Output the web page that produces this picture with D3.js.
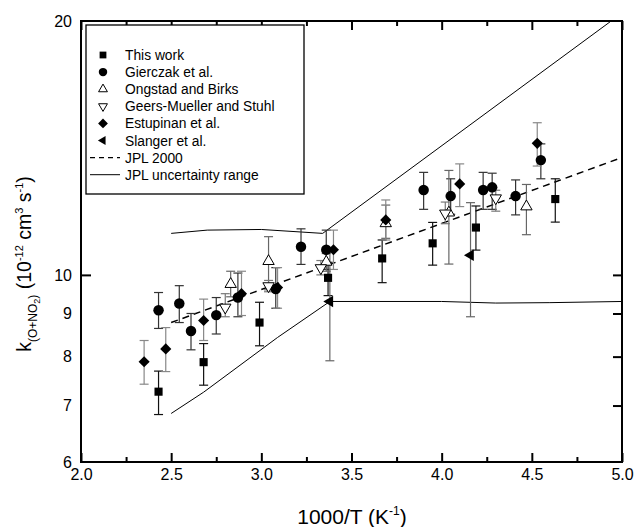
<!DOCTYPE html>
<html lang="en">
	<head>
		<meta charset="utf-8">
		<title>O + NO2 rate constant vs 1000/T</title>
		<script type="text/javascript" src="https://d3js.org/d3.v7.min.js"></script>
		<style type="text/css">
			body { margin: 0; background: #fff; }
			text { font-family: "Liberation Sans", Arial, sans-serif; }
		</style>
	</head>
	<body>
		<script type="text/javascript">

			//Data: [1000/T, k, lower error, upper error]
			var thisWork = [
				[2.43, 7.27, 6.83, 7.69], [2.68, 7.88, 7.40, 8.29], [2.99, 8.78, 8.24, 9.28],
				[3.37, 9.92, 9.45, 10.35], [3.67, 10.46, 9.79, 11.0], [3.95, 10.9, 10.27, 11.54],
				[4.19, 11.38, 10.7, 12.07], [4.63, 12.30, 11.55, 13.0]
			];
			var gierczak = [
				[2.43, 9.08, 8.64, 9.53], [2.545, 9.25, 8.78, 9.71], [2.61, 8.58, 8.15, 9.00],
				[2.75, 8.96, 8.51, 9.40], [2.87, 9.40, 8.92, 10.05], [3.08, 9.62, 9.13, 10.2],
				[3.22, 10.8, 10.29, 11.34], [3.36, 10.71, 10.15, 11.3], [3.90, 12.61, 11.96, 13.23],
				[4.05, 12.4, 11.8, 13.0], [4.23, 12.61, 11.96, 13.23], [4.28, 12.7, 11.96, 13.2],
				[4.41, 12.4, 11.78, 12.96], [4.55, 13.68, 13.0, 14.3]
			];
			var ongstad = [
				[2.83, 9.75, 9.42, 10.1], [3.04, 10.38, 9.6, 11.1], [3.36, 10.36, 10.1, 10.6],
				[3.69, 11.51, 11.05, 12.1], [4.04, 11.85, 10.3, 13.3], [4.47, 12.05, 11.16, 12.8]
			];
			var geers = [
				[2.80, 9.15, 8.92, 9.50], [3.04, 9.70, 9.55, 9.85], [3.33, 10.19, 10.0, 10.4],
				[4.02, 11.83, 11.5, 12.2], [4.30, 12.33, 11.9, 12.6]
			];
			var estupinan = [
				[2.35, 7.89, 7.42, 8.36], [2.47, 8.17, 7.68, 8.66], [2.68, 8.83, 8.36, 9.36],
				[2.89, 9.50, 8.95, 10.1], [3.09, 9.66, 9.13, 10.2], [3.40, 10.71, 10.15, 11.3],
				[3.69, 11.62, 11.0, 12.27], [4.10, 12.82, 12.05, 13.54], [4.53, 14.32, 13.46, 15.15]
			];
			var slanger = [
				[3.38, 9.30, 7.91, 10.7], [4.16, 10.55, 8.92, 12.18]
			];

			//JPL lines
			var jpl2000 = [[2.5, 8.78], [5.0, 13.78]];
			var jplUpper = [[2.5, 11.2], [2.7, 11.3], [3.0, 11.32], [3.34, 11.2], [4.94, 20]];
			var jplLower = [[2.5, 6.85], [2.68, 7.26], [3.09, 8.43], [3.38, 9.3], [4.0, 9.3],
				[4.3, 9.26], [4.6, 9.27], [5.0, 9.3]];

			var legendNames = ["This work", "Gierczak et al.", "Ongstad and Birks",
				"Geers-Mueller and Stuhl", "Estupinan et al.", "Slanger et al.",
				"JPL 2000", "JPL uncertainty range"];
			var xTicks = [2.0, 2.5, 3.0, 3.5, 4.0, 4.5, 5.0];
			var xMinorTicks = [2.25, 2.75, 3.25, 3.75, 4.25, 4.75];
			var yTicks = [6, 7, 8, 9, 10, 20];

			//Width and height
			var w = 637;
			var h = 527;
			var pL = 81, pR = 622, pT = 21, pB = 462;

			var svg = d3.select("body")
						.append("svg")
						.attr("width", w)
						.attr("height", h);

			var x = d3.scaleLinear().domain([2.0, 5.0]).range([pL, pR]);
			var y = d3.scaleLog().domain([6, 20]).range([pB, pT]);

			//Marker shapes (diamond = square turned 45deg)
			var shapeType = { square: d3.symbolSquare, circle: d3.symbolCircle,
				triangle: d3.symbolTriangle, diamond: d3.symbolSquare };
			var plotSize = { square: 66, circle: 86, triangle: 56, diamond: 62 };
			var legendSize = { square: 46, circle: 56, triangle: 34, diamond: 48 };

			var series = [
				{ data: thisWork, shape: "square", rot: 0, fill: "#000", err: "#111" },
				{ data: gierczak, shape: "circle", rot: 0, fill: "#000", err: "#333" },
				{ data: ongstad, shape: "triangle", rot: 0, fill: "#fff", err: "#666" },
				{ data: geers, shape: "triangle", rot: 180, fill: "#fff", err: "#777" },
				{ data: estupinan, shape: "diamond", rot: 45, fill: "#000", err: "#888" },
				{ data: slanger, shape: "triangle", rot: -90, fill: "#000", err: "#666" }
			];

			//JPL lines
			var line = d3.line()
						 .x(function(d) { return x(d[0]); })
						 .y(function(d) { return y(d[1]); });

			svg.append("path").attr("d", line(jplUpper))
			   .attr("fill", "none").attr("stroke", "#000").attr("stroke-width", 1);
			svg.append("path").attr("d", line(jplLower))
			   .attr("fill", "none").attr("stroke", "#000").attr("stroke-width", 1);
			svg.append("path").attr("d", line(jpl2000))
			   .attr("fill", "none").attr("stroke", "#000").attr("stroke-width", 1.5)
			   .attr("stroke-dasharray", "7,5");

			//Error bars, then markers
			series.forEach(function(s) {
				var g = svg.append("g");
				var eb = g.selectAll("g.eb")
						  .data(s.data)
						  .enter()
						  .append("g")
						  .attr("stroke", s.err)
						  .attr("stroke-width", 1.2);
				eb.append("line")
				  .attr("x1", function(d) { return x(d[0]); })
				  .attr("x2", function(d) { return x(d[0]); })
				  .attr("y1", function(d) { return y(d[2]); })
				  .attr("y2", function(d) { return y(d[3]); });
				[2, 3].forEach(function(k) {
					eb.append("line")
					  .attr("x1", function(d) { return x(d[0]) - 4.5; })
					  .attr("x2", function(d) { return x(d[0]) + 4.5; })
					  .attr("y1", function(d) { return y(d[k]); })
					  .attr("y2", function(d) { return y(d[k]); });
				});
			});

			series.forEach(function(s) {
				svg.append("g")
				   .selectAll("path")
				   .data(s.data)
				   .enter()
				   .append("path")
				   .attr("d", d3.symbol().type(shapeType[s.shape]).size(plotSize[s.shape]))
				   .attr("transform", function(d) {
				   		return "translate(" + x(d[0]) + "," + y(d[1]) + ") rotate(" + s.rot + ")";
				   })
				   .attr("fill", s.fill)
				   .attr("stroke", "#000")
				   .attr("stroke-width", s.fill == "#fff" ? 1 : 0);
			});

			//Axes, ticks pointing inward
			var axisG = svg.append("g");
			axisG.append("g")
				 .attr("transform", "translate(0," + pB + ")")
				 .call(d3.axisBottom(x).tickValues(xTicks).tickSize(-9).tickPadding(7)
				 	.tickFormat(d3.format(".1f")));
			axisG.append("g")
				 .attr("transform", "translate(0," + pB + ")")
				 .call(d3.axisBottom(x).tickValues(xMinorTicks).tickSize(-5).tickFormat(""));
			axisG.append("g")
				 .attr("transform", "translate(0," + pT + ")")
				 .call(d3.axisTop(x).tickValues(xTicks).tickSize(-9).tickFormat(""));
			axisG.append("g")
				 .attr("transform", "translate(0," + pT + ")")
				 .call(d3.axisTop(x).tickValues(xMinorTicks).tickSize(-5).tickFormat(""));
			axisG.append("g")
				 .attr("transform", "translate(" + pL + ",0)")
				 .call(d3.axisLeft(y).tickValues(yTicks).tickSize(0).tickPadding(9)
				 	.tickFormat(d3.format("d")));
			axisG.append("g")
				 .attr("transform", "translate(" + pL + ",0)")
				 .call(d3.axisLeft(y).tickValues([10]).tickSize(-10).tickFormat(""));
			axisG.append("g")
				 .attr("transform", "translate(" + pR + ",0)")
				 .call(d3.axisRight(y).tickValues([7, 8, 9, 10]).tickSize(-9).tickFormat(""));

			axisG.selectAll(".domain").remove();
			axisG.selectAll(".tick line").attr("stroke", "#000").attr("stroke-width", 2);
			axisG.selectAll(".tick text")
				 .attr("font-size", "16px")
				 .attr("fill", "#000")
				 .attr("font-family", "'Liberation Sans', Arial, sans-serif");

			//Frame
			svg.append("rect")
			   .attr("x", pL).attr("y", pT)
			   .attr("width", pR - pL).attr("height", pB - pT)
			   .attr("fill", "none").attr("stroke", "#000").attr("stroke-width", 2);

			//Axis titles
			var xt = svg.append("text")
						.attr("x", 352)
						.attr("y", 524)
						.attr("text-anchor", "middle")
						.attr("font-size", "21px");
			xt.append("tspan").text("1000/T (K");
			xt.append("tspan").text("-1").attr("font-size", "12px").attr("dy", -9);
			xt.append("tspan").text(")").attr("dy", 9);

			var yt = svg.append("text")
						.attr("transform", "translate(31," + 264 + ") rotate(-90)")
						.attr("text-anchor", "middle")
						.attr("font-size", "19.5px");
			yt.append("tspan").text("k");
			yt.append("tspan").text("(O+NO").attr("font-size", "12px").attr("dy", 6);
			yt.append("tspan").text("2").attr("font-size", "9px").attr("dy", 3);
			yt.append("tspan").text(")").attr("font-size", "12px").attr("dy", -3);
			yt.append("tspan").text(" (10").attr("dy", -6);
			yt.append("tspan").text("-12").attr("font-size", "11px").attr("dy", -8);
			yt.append("tspan").text(" cm").attr("dy", 8);
			yt.append("tspan").text("3").attr("font-size", "11px").attr("dy", -8);
			yt.append("tspan").text(" s").attr("dy", 8);
			yt.append("tspan").text("-1").attr("font-size", "11px").attr("dy", -8);
			yt.append("tspan").text(")").attr("dy", 8);

			//Legend
			var lg = svg.append("g");
			lg.append("rect")
			  .attr("x", 86).attr("y", 25).attr("width", 218).attr("height", 169)
			  .attr("fill", "#fff").attr("stroke", "#000").attr("stroke-width", 1.3);

			var rowY = function(i) { return 55 + i * 17.1; };
			series.forEach(function(s, i) {
				lg.append("path")
				  .attr("d", d3.symbol().type(shapeType[s.shape]).size(legendSize[s.shape])())
				  .attr("transform", "translate(103," + rowY(i) + ") rotate(" + s.rot + ")")
				  .attr("fill", s.fill)
				  .attr("stroke", "#000")
				  .attr("stroke-width", s.fill == "#fff" ? 1 : 0);
			});
			lg.append("line")
			  .attr("x1", 90).attr("x2", 120).attr("y1", rowY(6)).attr("y2", rowY(6))
			  .attr("stroke", "#000").attr("stroke-width", 1.3).attr("stroke-dasharray", "5,4");
			lg.append("line")
			  .attr("x1", 90).attr("x2", 120).attr("y1", rowY(7)).attr("y2", rowY(7))
			  .attr("stroke", "#000").attr("stroke-width", 1);

			lg.selectAll("text.lab")
			  .data(legendNames)
			  .enter()
			  .append("text")
			  .attr("x", 125)
			  .attr("y", function(d, i) { return rowY(i) + 5; })
			  .attr("font-size", "13.8px")
			  .text(function(d) { return d; });

		</script>
	</body>
</html>
